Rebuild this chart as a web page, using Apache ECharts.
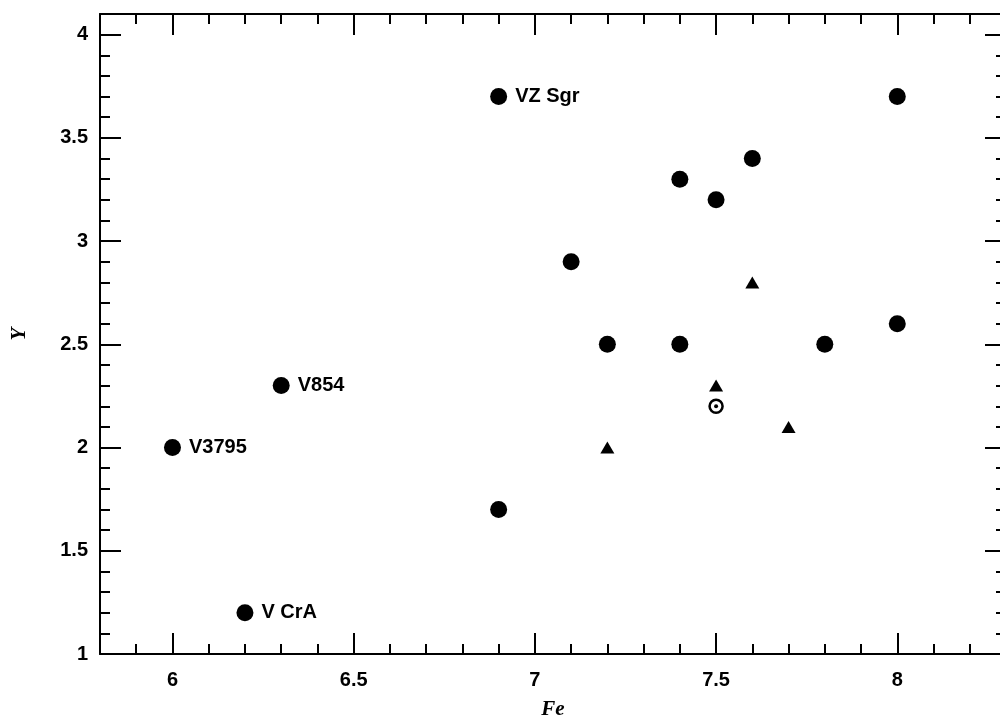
<!DOCTYPE html>
<html>
<head>
<meta charset="utf-8">
<script src="https://cdn.jsdelivr.net/npm/echarts@6/dist/echarts.min.js"></script>
<style>html,body{margin:0;padding:0;background:#fff}#c{width:1000px;height:721px}</style>
</head>
<body>
<div id="c"></div>
<script>
// Data
var circlePoints = [
  [6.9, 3.7, 'VZ Sgr'],
  [8.0, 3.7, ''],
  [7.6, 3.4, ''],
  [7.4, 3.3, ''],
  [7.5, 3.2, ''],
  [7.1, 2.9, ''],
  [8.0, 2.6, ''],
  [7.2, 2.5, ''],
  [7.4, 2.5, ''],
  [7.8, 2.5, ''],
  [6.3, 2.3, 'V854'],
  [6.0, 2.0, 'V3795'],
  [6.9, 1.7, ''],
  [6.2, 1.2, 'V CrA']
];
var trianglePoints = [
  [7.6, 2.8],
  [7.5, 2.3],
  [7.2, 2.0],
  [7.7, 2.1]
];
var sunPoints = [
  [7.5, 2.2]
];
var xMajorTicks = [6, 6.5, 7, 7.5, 8];
var yMajorTicks = [1, 1.5, 2, 2.5, 3, 3.5, 4];
var xRange = [5.8, 8.3];
var yRange = [1, 4.1];

function steps(a, b) {
  var out = [];
  for (var i = Math.round(a * 10); i <= Math.round(b * 10); i++) out.push(i / 10);
  return out;
}
var xMinorTicks = steps(xRange[0], xRange[1]);
var yMinorTicks = steps(yRange[0], yRange[1]);

var lineStyle = { color: '#000', width: 2 };
var labelFont = { color: '#000', fontSize: 20, fontWeight: 'bold', fontFamily: 'Liberation Sans, Arial, sans-serif' };
var nameFont = { color: '#000', fontSize: 21, fontStyle: 'italic', fontWeight: 'bold', fontFamily: 'Liberation Serif, serif' };

function xAxis(pos, major, showLabel, showLine) {
  return {
    type: 'value', position: pos, min: xRange[0], max: xRange[1],
    axisLine: { show: showLine, onZero: false, lineStyle: lineStyle },
    splitLine: { show: false },
    axisTick: { show: true, inside: true, length: major ? 21 : 10, lineStyle: lineStyle,
      customValues: major ? xMajorTicks : xMinorTicks },
    axisLabel: Object.assign({ show: showLabel, margin: 16, customValues: xMajorTicks,
      formatter: function (v) { return String(v); } }, labelFont),
    name: showLabel ? 'Fe' : '', nameLocation: 'middle', nameGap: 45,
    nameTextStyle: nameFont
  };
}
function yAxis(pos, major, showLabel, showLine) {
  return {
    type: 'value', position: pos, min: yRange[0], max: yRange[1],
    axisLine: { show: showLine, onZero: false, lineStyle: lineStyle },
    splitLine: { show: false },
    axisTick: { show: true, inside: true, length: major ? 21 : 10, lineStyle: lineStyle,
      customValues: major ? yMajorTicks : yMinorTicks },
    axisLabel: Object.assign({ show: showLabel, margin: 12, customValues: yMajorTicks,
      formatter: function (v) { return String(v); } }, labelFont),
    name: showLabel ? 'Y' : '', nameLocation: 'middle', nameGap: 70, nameRotate: 90,
    nameTextStyle: nameFont
  };
}

var chart = echarts.init(document.getElementById('c'), null, { renderer: 'canvas' });
chart.setOption({
  animation: false,
  backgroundColor: '#fff',
  grid: { left: 100, top: 14, width: 906, height: 640, containLabel: false, outerBoundsMode: 'none' },
  xAxis: [
    xAxis('bottom', true, true, true),
    xAxis('bottom', false, false, false),
    xAxis('top', true, false, true),
    xAxis('top', false, false, false)
  ],
  yAxis: [
    yAxis('left', true, true, true),
    yAxis('left', false, false, false),
    yAxis('right', true, false, true),
    yAxis('right', false, false, false)
  ],
  series: [
    {
      type: 'scatter', data: circlePoints, symbol: 'circle', symbolSize: 17,
      itemStyle: { color: '#000', opacity: 1 },
      label: { show: true, position: 'right', distance: 8, color: '#000', fontSize: 20, fontWeight: 'bold',
        fontFamily: 'Liberation Sans, Arial, sans-serif',
        formatter: function (p) { return p.data[2]; } }
    },
    {
      type: 'scatter', data: trianglePoints, symbol: 'triangle', symbolSize: [14, 12],
      itemStyle: { color: '#000', opacity: 1 }
    },
    {
      type: 'scatter', data: sunPoints, symbol: 'circle', symbolSize: 13,
      itemStyle: { color: '#fff', borderColor: '#000', borderWidth: 2.5, opacity: 1 }
    },
    {
      type: 'scatter', data: sunPoints, symbol: 'circle', symbolSize: 4,
      itemStyle: { color: '#000', opacity: 1 }
    }
  ]
});
</script>
</body>
</html>
